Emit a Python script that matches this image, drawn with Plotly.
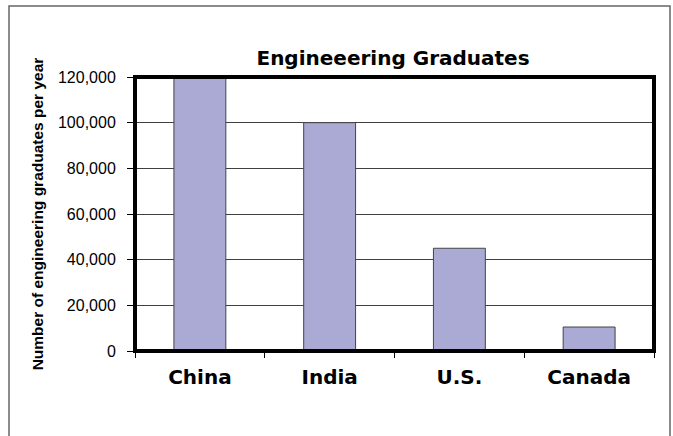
import plotly.graph_objects as go

# Annual engineering graduates by country
countries = ["China", "India", "U.S.", "Canada"]
graduates = [120000, 100000, 45000, 10500]
y_ticks = [0, 20000, 40000, 60000, 80000, 100000, 120000]

fig = go.Figure(
    go.Bar(
        x=countries,
        y=graduates,
        width=0.40,
        marker=dict(color="#AAAAD5", line=dict(color="#444444", width=1)),
        hoverinfo="x+y",
    )
)

fig.update_layout(
    width=673,
    height=436,
    margin=dict(l=135, r=19, t=77, b=85),
    paper_bgcolor="white",
    plot_bgcolor="white",
    showlegend=False,
    font=dict(family="Liberation Sans, Arial, sans-serif", color="black"),
    title=dict(
        text="<b>Engineeering Graduates</b>",
        x=0.584, xanchor="center",
        y=0.868, yanchor="middle",
        font=dict(size=20, color="black", family="DejaVu Sans, sans-serif"),
    ),
)

fig.update_xaxes(
    tickson="boundaries",
    ticks="outside",
    ticklen=6,
    tickcolor="black",
    tickfont=dict(size=20, color="black", family="DejaVu Sans, sans-serif", weight="bold"),
    ticklabelstandoff=12,
    showline=False,
    showgrid=False,
)

fig.update_yaxes(
    range=[0, 120000],
    tickvals=y_ticks,
    tickformat=",",
    ticks="outside",
    ticklen=7,
    tickcolor="black",
    tickfont=dict(size=16, color="black", family="Liberation Sans, Arial, sans-serif"),
    ticklabelstandoff=8,
    showgrid=True,
    gridcolor="#404040",
    gridwidth=1,
    showline=False,
    zeroline=False,
    title=dict(
        text="<b>Number of engineering graduates per year</b>",
        font=dict(size=15.5, color="black"),
        standoff=10,
    ),
)

# heavy frame around the plotting area
fig.add_shape(type="rect", xref="paper", yref="paper", x0=0, y0=0, x1=1, y1=1,
              line=dict(color="black", width=4), layer="above")
# outer chart border
fig.add_shape(type="rect", xref="paper", yref="paper",
              x0=-126 / 519, y0=-120 / 274, x1=(670 - 135) / 519, y1=(351 - 6) / 274,
              line=dict(color="#666666", width=1.5))

fig.write_html("out.html")
